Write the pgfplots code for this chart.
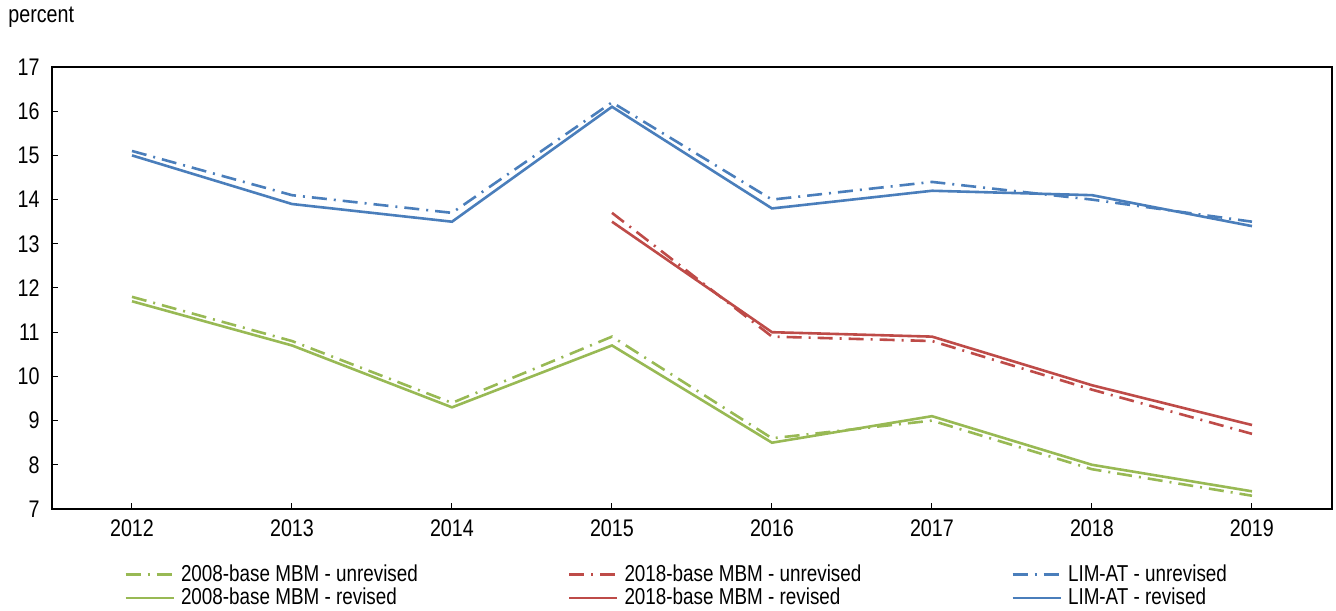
\documentclass[border=0pt]{standalone}
\usepackage{fontspec}
\setmainfont{Liberation Sans}[FakeStretch=0.82]
\usepackage{pgfplots}
\pgfplotsset{compat=1.18}
\definecolor{cblue}{HTML}{4A7EBB}
\definecolor{cred}{HTML}{BE4B48}
\definecolor{cgreen}{HTML}{98B954}
\tikzset{dd/.style={dash pattern=on 7.5pt off 3.5pt on 1pt off 3.5pt}}
\begin{document}
\fontsize{12pt}{14pt}\selectfont
\begin{tikzpicture}
\begin{axis}[
  at={(0,0)}, anchor=south west,
  scale only axis, width=640pt, height=221pt,
  xmin=2011.5, xmax=2019.5, ymin=7, ymax=17,
  xtick={2012,...,2019}, ytick={7,...,17},
  tick align=inside, tick style={black, line width=0.5pt}, major tick length=3pt,
  xtick pos=bottom, ytick pos=left,
  axis line style={line width=1pt},
  /pgf/number format/assume math mode=true,
  xticklabel style={/pgf/number format/1000 sep={}, yshift=-1pt},
  yticklabel style={xshift=-2pt},
  tick label style={font=\fontsize{12pt}{14pt}\selectfont},
  every axis plot/.append style={line width=1.3pt},
  legend style={at={(rel axis cs:0,0)}, anchor=north west, draw=none, fill=none,
    xshift=36pt, yshift=-26.5pt, inner sep=0pt,
    font=\fontsize{11.5pt}{13pt}\selectfont,
    nodes={inner xsep=3pt, inner ysep=1pt},
    row sep=-0.5pt,
    /tikz/every even column/.append style={column sep=72pt}},
  legend columns=3, legend cell align=left,
  legend image code/.code={\draw[line width=1.3pt, #1] (0pt,0pt) -- (24pt,0pt);},
  clip=false,
]
\addplot[cgreen, dd] coordinates {(2012,11.8)(2013,10.8)(2014,9.4)(2015,10.9)(2016,8.6)(2017,9.0)(2018,7.9)(2019,7.3)};
\addlegendentry{2008-base MBM - unrevised}
\addplot[cred, dd] coordinates {(2015,13.7)(2016,10.9)(2017,10.8)(2018,9.7)(2019,8.7)};
\addlegendentry{2018-base MBM - unrevised}
\addplot[cblue, dd] coordinates {(2012,15.1)(2013,14.1)(2014,13.7)(2015,16.2)(2016,14.0)(2017,14.4)(2018,14.0)(2019,13.5)};
\addlegendentry{LIM-AT - unrevised}
\addplot[cgreen] coordinates {(2012,11.7)(2013,10.7)(2014,9.3)(2015,10.7)(2016,8.5)(2017,9.1)(2018,8.0)(2019,7.4)};
\addlegendentry{2008-base MBM - revised}
\addplot[cred] coordinates {(2015,13.5)(2016,11.0)(2017,10.9)(2018,9.8)(2019,8.9)};
\addlegendentry{2018-base MBM - revised}
\addplot[cblue] coordinates {(2012,15.0)(2013,13.9)(2014,13.5)(2015,16.1)(2016,13.8)(2017,14.2)(2018,14.1)(2019,13.4)};
\addlegendentry{LIM-AT - revised}
\node[anchor=west, inner sep=0pt] at ([xshift=-22pt,yshift=25pt]rel axis cs:0,1) {percent};
\end{axis}
\pgfresetboundingbox
\path (-26pt,-50.5pt) rectangle (642pt,254.5pt);
\end{tikzpicture}
\end{document}
